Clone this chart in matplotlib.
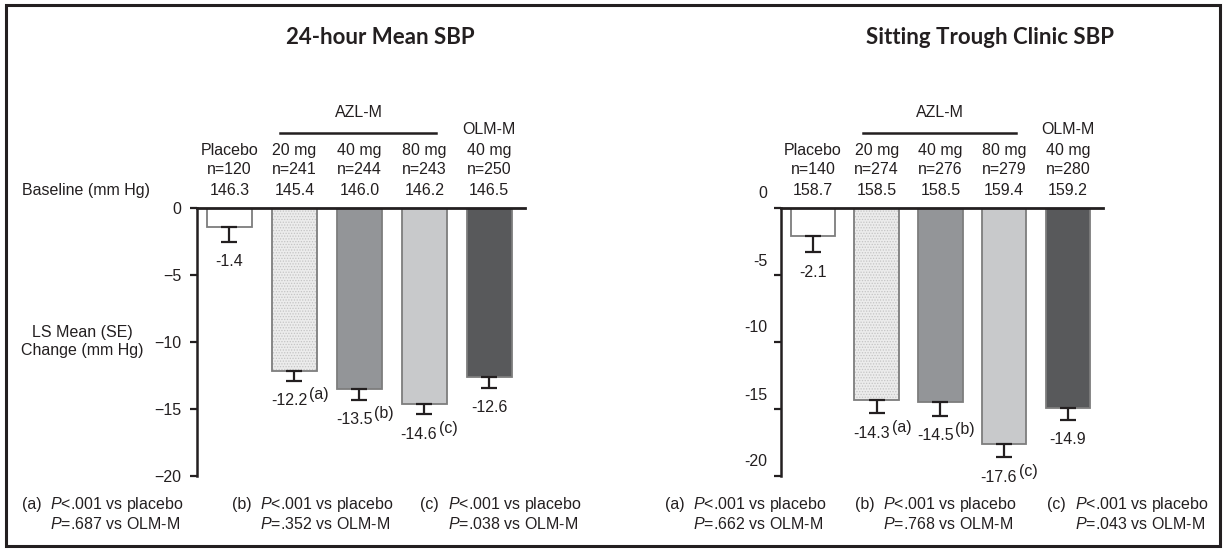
import matplotlib.pyplot as plt
from matplotlib.patches import Rectangle
import matplotlib.transforms as mtransforms

plt.rcParams['font.family'] = ['Liberation Sans', 'DejaVu Sans']
plt.rcParams['mathtext.fontset'] = 'custom'
plt.rcParams['mathtext.rm'] = 'Liberation Sans'
plt.rcParams['mathtext.it'] = 'Liberation Sans:italic'
plt.rcParams['hatch.linewidth'] = 0.6

INK = '#231f20'
FS = 11.5

# ---- data ----
doses = ['Placebo', '20 mg', '40 mg', '80 mg', '40 mg']
colors = ['#ffffff', '#ececec', '#939598', '#c8c9cb', '#58595b']

left_title = '24-hour Mean SBP'
left_n = [120, 241, 244, 243, 250]
left_base = [146.3, 145.4, 146.0, 146.2, 146.5]
left_mean = [-1.4, -12.2, -13.5, -14.6, -12.6]
left_se = [1.1, 0.7, 0.8, 0.8, 0.8]
left_mark = ['', '(a)', '(b)', '(c)', '']
left_p_olm = ['.687', '.352', '.038']

right_title = 'Sitting Trough Clinic SBP'
right_n = [140, 274, 276, 279, 280]
right_base = [158.7, 158.5, 158.5, 159.4, 159.2]
right_mean = [-2.1, -14.3, -14.5, -17.6, -14.9]
right_se = [1.2, 1.0, 1.0, 1.0, 0.9]
right_mark = ['', '(a)', '(b)', '(c)', '']
right_p_olm = ['.662', '.768', '.043']

yticks = [0, -5, -10, -15, -20]

W, H = 1226, 550
fig = plt.figure(figsize=(W / 100, H / 100), dpi=100)


def px_axes(x0, x1, ytop, ybot):
    return fig.add_axes([x0 / W, 1 - ybot / H, (x1 - x0) / W, (ybot - ytop) / H])


def draw_panel(ax, n, base, mean, se, marks, shift_labels):
    x = range(len(mean))
    ax.set_xlim(-0.5, 4.55)
    ax.set_ylim(-20, 0)
    # bars
    for i in x:
        if i == 1:
            ax.bar(i, mean[i], 0.7, color=colors[i], edgecolor='#c4c4c4', hatch='......', linewidth=0)
            ax.bar(i, mean[i], 0.7, fill=False, edgecolor='#7d7d7d', linewidth=1.3)
        else:
            ax.bar(i, mean[i], 0.7, color=colors[i], edgecolor='#7d7d7d', linewidth=1.3)
    ax.errorbar(list(x), mean, yerr=[se, [0] * len(se)], fmt='none', ecolor=INK,
                elinewidth=1.6, capsize=5.5, capthick=1.6)
    # value labels
    for i in x:
        yb = mean[i] - se[i]
        if marks[i]:
            ax.annotate(f'{mean[i]:.1f}', (i, yb), xytext=(13, -20), textcoords='offset pixels',
                        ha='right', va='center', fontsize=FS, color=INK)
            ax.annotate(marks[i], (i, yb), xytext=(15, -14), textcoords='offset pixels',
                        ha='left', va='center', fontsize=FS, color=INK)
        else:
            ax.annotate(f'{mean[i]:.1f}', (i, yb), xytext=(0, -20), textcoords='offset pixels',
                        ha='center', va='center', fontsize=FS, color=INK)
    # header rows above the bars
    hx = mtransforms.blended_transform_factory(ax.transData, ax.transAxes)
    for i in x:
        ax.text(i, 1.216, doses[i], transform=hx, ha='center', va='center', fontsize=FS, color=INK)
        ax.text(i, 1.142, f'n={n[i]}', transform=hx, ha='center', va='center', fontsize=FS, color=INK)
        ax.text(i, 1.064, f'{base[i]:.1f}', transform=hx, ha='center', va='center', fontsize=FS, color=INK)
    ax.text(2, 1.357, 'AZL-M', transform=hx, ha='center', va='center', fontsize=FS, color=INK)
    ax.plot([0.78, 3.18], [1.28, 1.28], transform=hx, color=INK, lw=1.8, clip_on=False)
    ax.text(4, 1.292, 'OLM-M', transform=hx, ha='center', va='center', fontsize=FS, color=INK)
    # axes styling
    for s in ['right', 'bottom']:
        ax.spines[s].set_visible(False)
    ax.spines['left'].set_linewidth(1.8)
    ax.spines['top'].set_linewidth(2.0)
    ax.spines['left'].set_color(INK)
    ax.spines['top'].set_color(INK)
    ax.set_xticks([])
    ax.set_yticks(yticks)
    ax.tick_params(axis='y', length=5, width=1.6, color=INK, pad=6, labelsize=FS, labelcolor=INK)
    if shift_labels:
        ax.set_yticklabels([])
        ty = mtransforms.blended_transform_factory(ax.transAxes, ax.transData)
        for t in yticks:
            ax.annotate(str(t), (0, t), xycoords=ty, xytext=(-14, 14), textcoords='offset pixels',
                        ha='right', va='center', fontsize=FS, color=INK)


axL = px_axes(197, 525, 208, 476)
axR = px_axes(781, 1103, 208, 476)
draw_panel(axL, left_n, left_base, left_mean, left_se, left_mark, False)
draw_panel(axR, right_n, right_base, right_mean, right_se, right_mark, True)

for tx, title in [(380, left_title), (990, right_title)]:
    fig.text(tx / W, 1 - 44 / H, title, ha='center', va='baseline', fontsize=16,
             fontweight='bold', family=['Lato', 'DejaVu Sans'], color=INK)

fig.text(22 / W, 1 - 190 / H, 'Baseline (mm Hg)', ha='left', va='center', fontsize=FS, color=INK)
fig.text(82 / W, 1 - 342 / H, 'LS Mean (SE)\nChange (mm Hg)', ha='center', va='center',
         fontsize=FS, color=INK, linespacing=1.25)


def footnotes(xs, pvals):
    for xs0, lab, p in zip(xs, ['(a)', '(b)', '(c)'], pvals):
        fig.text(xs0 / W, 1 - 505 / H, lab, ha='left', va='center', fontsize=FS, color=INK)
        fig.text((xs0 + 28) / W, 1 - 505 / H, r'$\mathit{P}$<.001 vs placebo', ha='left', va='center',
                 fontsize=FS, color=INK)
        fig.text((xs0 + 28) / W, 1 - 524 / H, r'$\mathit{P}$=' + p + ' vs OLM-M', ha='left', va='center',
                 fontsize=FS, color=INK)


footnotes([22, 232, 420], left_p_olm)
footnotes([665, 855, 1047], right_p_olm)

fig.patches.append(Rectangle((6 / W, 1 - 546 / H), 1214 / W, 541 / H, transform=fig.transFigure,
                             fill=False, edgecolor=INK, linewidth=2.2))

fig.savefig('out.png', dpi=100)
